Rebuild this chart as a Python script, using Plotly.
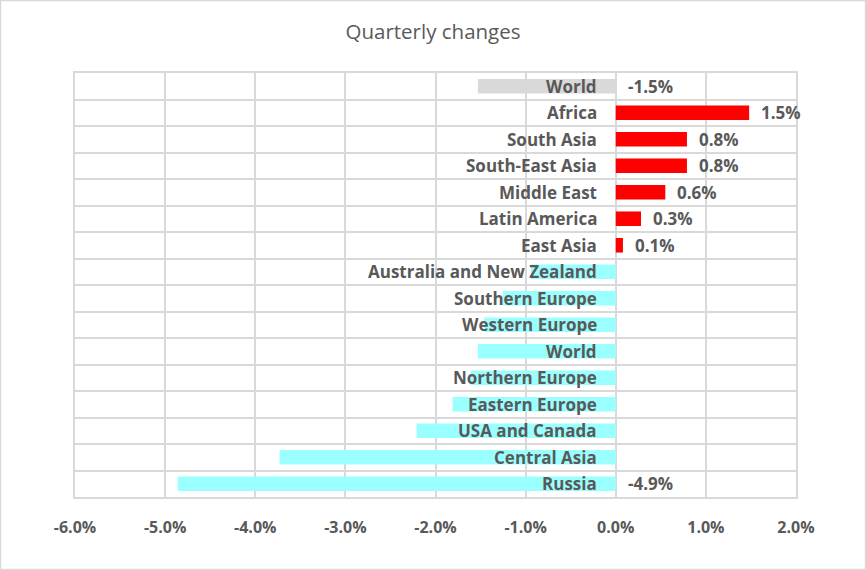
import plotly.graph_objects as go

# Data (top to bottom as shown)
categories = ["World", "Africa", "South Asia", "South-East Asia", "Middle East",
              "Latin America", "East Asia", "Australia and New Zealand",
              "Southern Europe", "Western Europe", "World", "Northern Europe",
              "Eastern Europe", "USA and Canada", "Central Asia", "Russia"]
values = [-1.53, 1.48, 0.79, 0.79, 0.55, 0.28, 0.08, -0.94,
          -1.25, -1.46, -1.53, -1.61, -1.81, -2.21, -3.73, -4.86]
value_labels = ["-1.5%", "1.5%", "0.8%", "0.8%", "0.6%", "0.3%", "0.1%", "",
                "", "", "", "", "", "", "", "-4.9%"]
groups = ["world", "pos", "pos", "pos", "pos", "pos", "pos", "neg",
          "neg", "neg", "neg", "neg", "neg", "neg", "neg", "neg"]
x_ticks = [-6, -5, -4, -3, -2, -1, 0, 1, 2]
x_tick_labels = ["-6.0%", "-5.0%", "-4.0%", "-3.0%", "-2.0%", "-1.0%", "0.0%", "1.0%", "2.0%"]

color_map = {"world": "#D9D9D9", "pos": "#FF0000", "neg": "#99FFFF"}
TEXT = "#595959"
GRID = "#D9D9D9"
FONT = "Open Sans"

n = len(categories)
ypos = [n - 1 - i for i in range(n)]

fig = go.Figure()
fig.add_trace(go.Bar(
    x=values, y=ypos, orientation="h",
    marker=dict(color=[color_map[g] for g in groups], line=dict(width=0)),
    width=0.55, hoverinfo="x+y", showlegend=False,
))

annotations = []
for cat, v, lab, y in zip(categories, values, value_labels, ypos):
    annotations.append(dict(
        x=0, y=y, xref="x", yref="y", text=f"<b>{cat}</b>", showarrow=False,
        xanchor="right", yanchor="middle", xshift=-17,
        font=dict(family=FONT, size=17, color=TEXT)))
    if lab:
        annotations.append(dict(
            x=max(v, 0), y=y, xref="x", yref="y", text=f"<b>{lab}</b>", showarrow=False,
            xanchor="left", yanchor="middle", xshift=10,
            font=dict(family=FONT, size=17, color=TEXT)))

W, H = 866, 570
ml, mr, mt, mb = 75, 70, 73, 73
pw, ph = W - ml - mr, H - mt - mb
# chart border in paper coords
x0 = (0.5 - ml) / pw
x1 = (W - 0.5 - ml) / pw
y0 = -(H - 0.5 - mt - ph) / ph
y1 = 1 + (mt - 0.5) / ph

fig.update_layout(
    width=W, height=H,
    margin=dict(l=ml, r=mr, t=mt, b=mb),
    paper_bgcolor="white", plot_bgcolor="white",
    title=dict(text="Quarterly changes", x=0.5, xanchor="center", y=1 - 32 / H,
               yanchor="middle", font=dict(family=FONT, size=20.5, color=TEXT)),
    xaxis=dict(range=[-6, 2], tickvals=x_ticks, ticktext=x_tick_labels,
               showgrid=True, gridcolor=GRID, gridwidth=1.5, zeroline=False,
               showline=True, linecolor=GRID, linewidth=1.5, mirror=True,
               ticks="", ticklabelstandoff=15,
               tickfont=dict(family=FONT, size=16, color=TEXT, weight="bold")),
    yaxis=dict(range=[-0.5, n - 0.5], tick0=-0.5, dtick=1, showticklabels=False,
               showgrid=True, gridcolor=GRID, gridwidth=1.5, zeroline=False,
               showline=True, linecolor=GRID, linewidth=1.5, mirror=True,
               ticks=""),
    annotations=annotations,
    shapes=[dict(type="rect", xref="paper", yref="paper", x0=x0, x1=x1, y0=y0, y1=y1,
                 line=dict(color=GRID, width=1.5), layer="below")],
)

fig.write_html("out.html", config={"displayModeBar": False},
               post_script="document.body.style.margin='0';")
